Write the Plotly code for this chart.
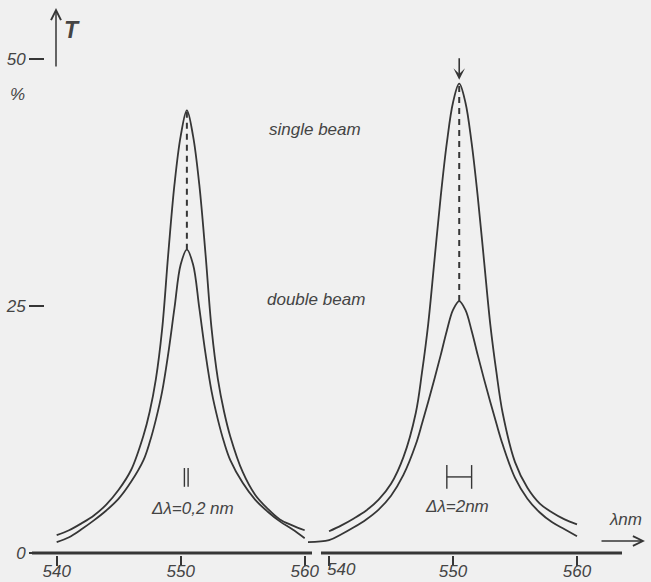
import plotly.graph_objects as go

# ---------------- data ----------------
# wavelength (nm) and transmission T (%), read along an even wavelength grid
wl = [540, 541, 542, 543, 544, 545, 546, 547, 547.5, 548, 548.5, 549, 549.5, 550, 550.5,
      551, 551.5, 552, 552.5, 553, 553.5, 554, 555, 556, 557, 558, 559, 560]

# Left panel: slit width 0.2 nm
left_single_t = [1.8, 2.3, 3.0, 3.8, 4.9, 6.4, 8.4, 11.9, 14.3, 17.6, 22.6, 30.3, 37.3, 42.2, 44.8,
                 42.2, 37.3, 30.3, 22.6, 17.6, 14.3, 11.8, 8.2, 5.9, 4.5, 3.4, 2.8, 2.3]
left_double_t = [1.1, 1.6, 2.4, 3.3, 4.3, 5.5, 7.2, 9.4, 11.2, 13.5, 16.3, 20.2, 24.8, 29.2, 30.7,
                 29.2, 24.8, 20.2, 16.3, 13.5, 11.2, 9.4, 7.1, 5.4, 4.2, 3.2, 2.4, 1.5]

# Right panel: slit width 2 nm
right_single_t = [2.2, 2.8, 3.5, 4.3, 5.4, 7.0, 9.7, 14.2, 18.3, 23.2, 29.6, 36.0, 41.5, 45.6, 47.5,
                  45.6, 41.5, 36.0, 29.6, 23.2, 18.3, 14.2, 9.2, 6.6, 5.0, 4.1, 3.4, 2.9]
right_double_lead_wl = [538.3]   # the double-beam trace starts just left of 540
right_double_lead_t = [1.1]
right_double_t = [1.3, 1.9, 2.6, 3.4, 4.4, 5.8, 7.9, 11.0, 13.1, 15.3, 17.6, 20.0, 22.5, 24.6, 25.5,
                  24.6, 22.5, 20.0, 17.6, 15.3, 13.1, 11.0, 7.6, 5.5, 4.1, 3.1, 2.4, 1.7]

peak_x = 550.5
slit_left_x = [550.3, 550.6]     # the "||" mark (0.2 nm)
slit_right_x = [549.5, 551.5]    # the "|-|" mark (2 nm)
slit_left_t = [6.7, 8.6]
slit_right_t = [6.5, 8.9]

x_ticks = [540, 550, 560]
left_tick_text = ["540", "550", "560"]
right_tick_text = ["", "550", "560"]   # the right-hand "540" is lettered a little to the right
y_ticks = [0, 25, 50]
y_tick_text = ["0", "25", "50"]

# ---------------- styling ----------------
W, H = 651, 582
INK = "#363636"
TXT = "#444444"
BG = "#f0f0f0"
FONT = "Liberation Sans"


def px(x):
    return x / W


def py(y):
    return 1 - y / H


fig = go.Figure()


def curve(x, y, xa):
    fig.add_trace(go.Scatter(
        x=x, y=y, xaxis=xa, yaxis="y", mode="lines",
        line=dict(color=INK, width=1.8, shape="spline", smoothing=1.0),
        hoverinfo="skip", showlegend=False))


curve(wl, left_single_t, "x")
curve(wl, left_double_t, "x")
curve(wl, right_single_t, "x2")
curve(right_double_lead_wl + wl, right_double_lead_t + right_double_t, "x2")

# dashed lines joining the peaks
for xa, s, d in (("x", left_single_t, left_double_t), ("x2", right_single_t, right_double_t)):
    fig.add_trace(go.Scatter(
        x=[peak_x, peak_x], y=[max(d), max(s)], xaxis=xa, yaxis="y", mode="lines",
        line=dict(color=INK, width=2, dash="6px,5px"), hoverinfo="skip", showlegend=False))

# slit width symbols
fig.add_trace(go.Scatter(
    x=[slit_left_x[0], slit_left_x[0], None, slit_left_x[1], slit_left_x[1]],
    y=[slit_left_t[0], slit_left_t[1], None, slit_left_t[0], slit_left_t[1]],
    xaxis="x", yaxis="y", mode="lines", line=dict(color=INK, width=1.4),
    hoverinfo="skip", showlegend=False))
mid_r = sum(slit_right_t) / 2
fig.add_trace(go.Scatter(
    x=[slit_right_x[0], slit_right_x[0], None, slit_right_x[0], slit_right_x[1], None, slit_right_x[1], slit_right_x[1]],
    y=[slit_right_t[0], slit_right_t[1], None, mid_r, mid_r, None, slit_right_t[0], slit_right_t[1]],
    xaxis="x2", yaxis="y", mode="lines", line=dict(color=INK, width=1.4),
    hoverinfo="skip", showlegend=False))

# axis base lines
fig.add_shape(type="line", xref="x", yref="y", x0=538.01, x1=560.59, y0=0, y1=0,
              line=dict(color=INK, width=3))
fig.add_shape(type="line", xref="x2", yref="y", x0=539.35, x1=563.63, y0=0, y1=0,
              line=dict(color=INK, width=3))

tickfont = dict(family=FONT, size=17, color=TXT, style="italic")
common_x = dict(showgrid=False, zeroline=False, showline=False, ticks="outside", ticklen=10,
                tickwidth=1.5, tickcolor=INK, tickvals=x_ticks, tickfont=tickfont,
                ticklabelstandoff=-10, automargin=False, anchor="y", fixedrange=True)

fig.update_layout(
    width=W, height=H, margin=dict(l=0, r=0, t=0, b=0, autoexpand=False),
    paper_bgcolor=BG, plot_bgcolor=BG, showlegend=False,
    xaxis=dict(domain=[px(32), px(312)], range=[538.01, 560.59], ticktext=left_tick_text, **common_x),
    xaxis2=dict(domain=[px(305), px(622)], range=[538.06, 563.63], ticktext=right_tick_text, **common_x),
    yaxis=dict(domain=[(H - 555.47) / H, 1], range=[-0.25, 55.97], anchor="free", position=px(44),
               showgrid=False, zeroline=False, showline=False, ticks="outside", ticklen=15,
               tickwidth=1.5, tickcolor=INK, tickvals=y_ticks, ticktext=y_tick_text,
               tickfont=tickfont, automargin=False, fixedrange=True),
)

ann_font = dict(family=FONT, size=17, color=TXT, style="italic")


def label(text, x, y, **kw):
    f = dict(ann_font)
    f.update(kw.pop("font", {}))
    fig.add_annotation(text=text, x=px(x), y=py(y), xref="paper", yref="paper",
                       showarrow=False, xanchor="center", yanchor="middle", font=f, **kw)


label(str(x_ticks[0]), 342, 569)
label("%", 17, 95)
label("<b>T</b>", 72, 30, font=dict(size=23))
label("single beam", 315, 129)
label("double beam", 316, 299)
label("Δλ=0,2 nm", 192, 508)
label("Δλ=2nm", 457, 506)
label("λnm", 625, 519)

# arrows
fig.add_annotation(x=px(56), y=py(8), xref="paper", yref="paper", ax=0, ay=60, text="",
                   showarrow=True, arrowhead=5, arrowsize=1.3, arrowwidth=1.5, arrowcolor=INK)
fig.add_annotation(x=px(645), y=py(541), xref="paper", yref="paper", ax=-45, ay=0, text="",
                   showarrow=True, arrowhead=5, arrowsize=1.3, arrowwidth=1.5, arrowcolor=INK)
fig.add_annotation(x=peak_x, y=47.9, xref="x2", yref="y", ax=0, ay=-23, text="",
                   showarrow=True, arrowhead=3, arrowsize=1.2, arrowwidth=1.6, arrowcolor=INK)

fig.write_html("out.html", config={"displayModeBar": False},
               post_script="document.body.style.margin='0';document.body.style.background='#f0f0f0';")
